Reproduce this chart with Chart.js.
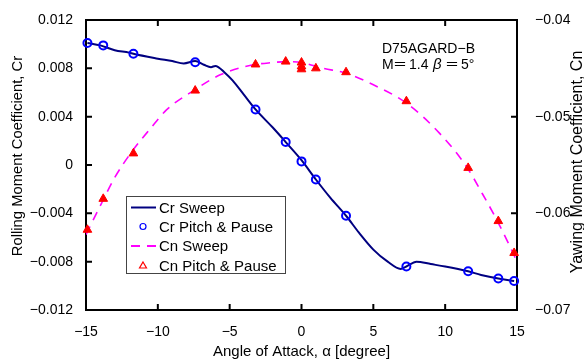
<!DOCTYPE html>
<html>
<head>
<meta charset="utf-8">
<script src="https://cdn.jsdelivr.net/npm/chart.js@4.4.1/dist/chart.umd.min.js"></script>
<style>
  body { margin: 0; background: #fff; }
  canvas { display: block; }
</style>
</head>
<body>
<canvas id="momentChart" width="584" height="360"></canvas>
<script>
// Angle of attack [deg] and coefficients
const crSweepAlpha = [-14.9, -14, -13, -12, -11.7, -10, -9, -8.2, -7.4, -6.8, -6.3, -6.0, -5.3, -4.8, -4, -3.2, -2, -1.1, 0, 1, 2, 3.1, 4, 5, 6, 6.9, 7.3, 8, 9, 10, 11.6, 12.5, 13.7, 14.8];
const crSweepValue = [0.0101, 0.0099, 0.0095, 0.0093, 0.0092, 0.0088, 0.0086, 0.0084, 0.0086, 0.0083, 0.0081, 0.0082, 0.0076, 0.0070, 0.0058, 0.0046, 0.0031, 0.0019, 0.0004, -0.0012, -0.0027, -0.0042, -0.0056, -0.0070, -0.0080, -0.0086, -0.0084, -0.0080, -0.0082, -0.0084, -0.0088, -0.0091, -0.0094, -0.0096];

const crPitchAlpha = [-14.9, -13.8, -11.7, -7.4, -3.2, -1.1, 0, 1, 3.1, 7.3, 11.6, 13.7, 14.8];
const crPitchValue = [0.0101, 0.0099, 0.0092, 0.0085, 0.0046, 0.0019, 0.0003, -0.0012, -0.0042, -0.0084, -0.0088, -0.0094, -0.0096];

const cnSweepAlpha = [-15, -14, -13, -11.7, -10.5, -9.4, -7.4, -5.7, -3.6, -2, -1, 0, 1.5, 3.1, 5, 7.3, 9.6, 11.5, 12.6, 13.6, 14.5, 15];
const cnSweepValue = [-0.0622, -0.0592, -0.0563, -0.0534, -0.0512, -0.0493, -0.0472, -0.0457, -0.0447, -0.0444, -0.0443, -0.0444, -0.0450, -0.0455, -0.0467, -0.0486, -0.0517, -0.0552, -0.0580, -0.0607, -0.0634, -0.0650];

const cnPitchAlpha = [-14.9, -13.8, -11.7, -7.4, -3.2, -1.1, 0, 0, 0, 1, 3.1, 7.3, 11.6, 13.7, 14.8];
const cnPitchValue = [-0.0617, -0.0585, -0.0538, -0.0473, -0.0446, -0.0443, -0.0444, -0.0448, -0.0451, -0.0450, -0.0454, -0.0484, -0.0553, -0.0608, -0.0641];

const seriesNames = ["Cr Sweep", "Cr Pitch & Pause", "Cn Sweep", "Cn Pitch & Pause"];

const FONT = "'Liberation Sans', Arial, sans-serif";
const CJK = "'Noto Sans CJK JP', sans-serif";
const minus = s => s.replace("-", "\u2212");
const toPoints = (xs, ys) => xs.map((x, i) => ({ x: x, y: ys[i] }));

// inward ticks, top frame line, y titles, legend box and the case label
const framePlugin = {
  id: "frame",
  afterDraw(chart) {
    const ctx = chart.ctx;
    const a = chart.chartArea;
    const sx = chart.scales.x, sy = chart.scales.y, sy2 = chart.scales.y2;
    ctx.save();
    ctx.strokeStyle = "#000";
    ctx.lineWidth = 2;
    ctx.beginPath();
    ctx.moveTo(a.left - 1, a.top);
    ctx.lineTo(a.right + 1, a.top);
    sx.ticks.forEach(t => {
      const px = sx.getPixelForValue(t.value);
      ctx.moveTo(px, a.bottom); ctx.lineTo(px, a.bottom - 6);
      ctx.moveTo(px, a.top); ctx.lineTo(px, a.top + 6);
    });
    sy.ticks.forEach(t => {
      const py = sy.getPixelForValue(t.value);
      ctx.moveTo(a.left, py); ctx.lineTo(a.left + 6, py);
    });
    sy2.ticks.forEach(t => {
      const py = sy2.getPixelForValue(t.value);
      ctx.moveTo(a.right, py); ctx.lineTo(a.right - 6, py);
    });
    ctx.stroke();

    // y axis titles, both reading bottom to top
    ctx.fillStyle = "#000";
    ctx.textAlign = "center";
    ctx.textBaseline = "middle";
    ctx.save();
    ctx.translate(18, 156);
    ctx.rotate(-Math.PI / 2);
    ctx.font = "14.8px " + FONT;
    ctx.fillText("Rolling Moment Coefficient, Cr", 0, 0);
    ctx.restore();
    ctx.save();
    ctx.translate(578, 162);
    ctx.rotate(-Math.PI / 2);
    ctx.font = "16px " + FONT;
    ctx.fillText("Yawing Moment Coefficient, Cn", 0, 0);
    ctx.restore();
    ctx.textAlign = "left";

    // legend
    const lx = 126.5, ly = 196.5, lw = 159, lh = 77;
    ctx.fillStyle = "#fff";
    ctx.fillRect(lx, ly, lw, lh);
    ctx.lineWidth = 1;
    ctx.strokeStyle = "#444";
    ctx.strokeRect(lx, ly, lw, lh);
    const rows = [207.5, 226.5, 246, 265.5];
    ctx.font = "15px " + FONT;
    ctx.textBaseline = "middle";
    ctx.fillStyle = "#000";
    seriesNames.forEach((name, i) => ctx.fillText(name, 159, rows[i] + 1));

    ctx.strokeStyle = "#000080"; ctx.lineWidth = 2;
    ctx.beginPath(); ctx.moveTo(131, rows[0]); ctx.lineTo(156, rows[0]); ctx.stroke();
    ctx.strokeStyle = "#0000ff"; ctx.lineWidth = 1.2;
    ctx.beginPath(); ctx.arc(143, rows[1], 3, 0, Math.PI * 2); ctx.stroke();
    ctx.strokeStyle = "#ff00ff"; ctx.lineWidth = 2;
    ctx.setLineDash([9, 7]);
    ctx.beginPath(); ctx.moveTo(131, rows[2]); ctx.lineTo(156, rows[2]); ctx.stroke();
    ctx.setLineDash([]);
    ctx.strokeStyle = "#ff0000"; ctx.lineWidth = 1.2;
    ctx.beginPath();
    ctx.moveTo(143, rows[3] - 3.5); ctx.lineTo(146.5, rows[3] + 2.5); ctx.lineTo(139.5, rows[3] + 2.5);
    ctx.closePath(); ctx.stroke();

    // case label
    ctx.fillStyle = "#000";
    ctx.textBaseline = "alphabetic";
    ctx.font = "14px " + FONT;
    ctx.fillText("D75AGARD\u2212B", 382, 53);
    ctx.fillText("M", 382, 69);
    ctx.fillText("1.4", 409, 69);
    ctx.fillText("5\u00b0", 461, 69);
    ctx.font = "14px " + CJK;
    ctx.fillText("\uff1d", 393, 69);
    ctx.fillText("\uff1d", 445, 69);
    ctx.font = "italic 15px " + FONT;
    ctx.fillText("\u03b2", 433, 69);
    ctx.restore();
  }
};

new Chart(document.getElementById("momentChart").getContext("2d"), {
  type: "scatter",
  data: {
    datasets: [
      {
        label: seriesNames[0],
        data: toPoints(crSweepAlpha, crSweepValue),
        showLine: true,
        borderColor: "#000080",
        borderWidth: 2,
        pointRadius: 0,
        cubicInterpolationMode: "monotone",
        yAxisID: "y",
        order: 3
      },
      {
        label: seriesNames[1],
        data: toPoints(crPitchAlpha, crPitchValue),
        borderColor: "#0000ff",
        backgroundColor: "rgba(0,0,0,0)",
        borderWidth: 2,
        pointRadius: 4,
        pointStyle: "circle",
        yAxisID: "y",
        clip: false,
        order: 2
      },
      {
        label: seriesNames[2],
        data: toPoints(cnSweepAlpha, cnSweepValue),
        showLine: true,
        borderColor: "#ff00ff",
        borderWidth: 1.6,
        borderDash: [9, 7],
        pointRadius: 0,
        cubicInterpolationMode: "monotone",
        yAxisID: "y2",
        order: 4
      },
      {
        label: seriesNames[3],
        data: toPoints(cnPitchAlpha, cnPitchValue),
        borderColor: "#ff0000",
        backgroundColor: "#ff0000",
        borderWidth: 1,
        pointRadius: 5,
        pointStyle: "triangle",
        yAxisID: "y2",
        clip: false,
        order: 1
      }
    ]
  },
  options: {
    responsive: false,
    animation: false,
    layout: { padding: { top: 20 } },
    plugins: {
      legend: { display: false },
      tooltip: { enabled: false }
    },
    scales: {
      x: {
        type: "linear",
        position: "bottom",
        min: -15,
        max: 15,
        afterFit: s => { s.height = 50; },
        grid: { display: false },
        border: { display: true, color: "#000", width: 2 },
        ticks: {
          stepSize: 5,
          padding: 6,
          color: "#000",
          font: { family: FONT, size: 14 },
          callback: v => minus(String(v))
        },
        title: {
          display: true,
          text: "Angle of Attack, \u03b1 [degree]",
          color: "#000",
          font: { family: FONT, size: 15 },
          padding: { top: 0, bottom: -1 }
        }
      },
      y: {
        type: "linear",
        position: "left",
        min: -0.012,
        max: 0.012,
        afterFit: s => { s.width = 86; },
        grid: { display: false },
        border: { display: true, color: "#000", width: 2 },
        ticks: {
          stepSize: 0.004,
          padding: 5,
          color: "#000",
          font: { family: FONT, size: 14 },
          callback: v => Math.abs(v) < 1e-9 ? "0" : minus(v.toFixed(3))
        }
      },
      y2: {
        type: "linear",
        position: "right",
        min: -0.07,
        max: -0.04,
        afterFit: s => { s.width = 67; },
        grid: { display: false },
        border: { display: true, color: "#000", width: 2 },
        ticks: {
          stepSize: 0.01,
          padding: 10,
          color: "#000",
          font: { family: FONT, size: 14 },
          callback: v => minus(v.toFixed(2))
        }
      }
    }
  },
  plugins: [framePlugin]
});
</script>
</body>
</html>
